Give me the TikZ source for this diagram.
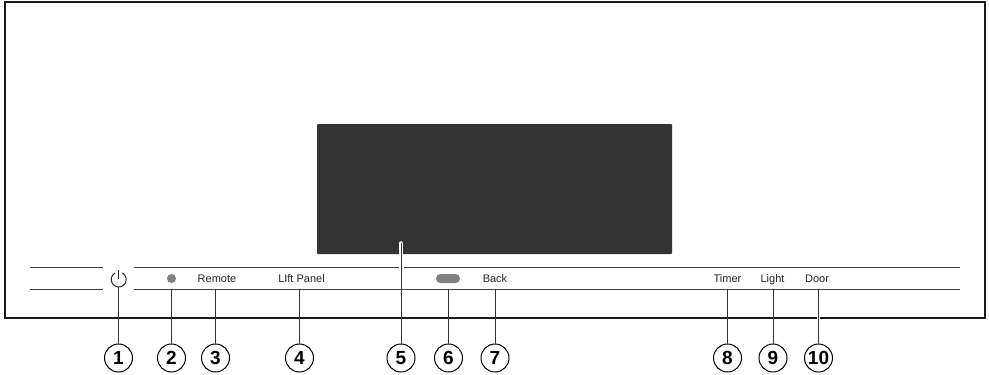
\documentclass[tikz,border=0pt]{standalone}
\usepackage{fontspec}
\setmainfont{Liberation Sans}
\tikzset{
  x=1pt,y=-1pt,
  panelline/.style={draw=black!75,line width=1pt},
  leader/.style={draw=black!80,line width=1pt},
  callout/.style={circle,draw=black,line width=1pt,fill=white,minimum size=28pt,inner sep=0pt,font=\fontsize{19}{19}\selectfont\bfseries},
  lbl/.style={font=\fontsize{11}{11}\selectfont,text=black!85,inner sep=0pt,anchor=base},
  grey/.style={fill=black!50,draw=none},
}
\begin{document}
\begin{tikzpicture}
\useasboundingbox (0,0) rectangle (989,375);
\fill[white] (0,0) rectangle (989,375);
\draw[black!90,line width=1.8pt] (5,2) rectangle (985,318);
\node[fill=black!80,draw=none,rounded corners=1pt,minimum width=355pt,minimum height=130pt,inner sep=0pt] (screen) at (494.5,189) {};
\draw[panelline] (30,267.5) -- (103,267.5) (133.5,267.5) -- (960,267.5);
\draw[panelline] (30,289.5) -- (103,289.5) (133.5,289.5) -- (960,289.5);
% labels
\node[lbl] (remote) at (217,282) {Remote};
\node[lbl] (lift) at (301.5,282) {LIft Panel};
\node[lbl] (back) at (495,282) {Back};
\node[lbl] (timer) at (727.5,282) {Timer};
\node[lbl] (light) at (772.5,282) {Light};
\node[lbl] (door) at (817,282) {Door};
% symbols
\draw[black!85,line width=1pt] (122.45,273) arc[start angle=-60,end angle=240,radius=7.5];
\coordinate (pw) at (118.7,270);
\draw[black!85,line width=1pt] (pw) -- (118.7,279);
\node[grey,circle,minimum size=9pt,inner sep=0pt] (dot) at (171.5,278.5) {};
\node[grey,rounded corners=4.5pt,minimum width=24pt,minimum height=9pt,inner sep=0pt] (pill) at (448,278.5) {};
% callouts
\node[callout] (c1) at (118.5,358) {1};
\node[callout] (c2) at (171.5,358) {2};
\node[callout] (c3) at (215.5,358) {3};
\node[callout] (c4) at (299.5,358) {4};
\node[callout] (c5) at (401,358) {5};
\node[callout] (c6) at (448.5,358) {6};
\node[callout] (c7) at (495,358) {7};
\node[callout] (c8) at (727.5,358) {8};
\node[callout] (c9) at (773,358) {9};
\node[callout] (c10) at (818.5,358) {10};
% anchor points on the panel
\coordinate (t1) at (118.5,287.5);
\coordinate (t2) at (171.5,289.5);
\coordinate (t3) at (215.5,289.5);
\coordinate (t4) at (299.5,289.5);
\coordinate (t5) at (401,243);
\coordinate (t6) at (448.5,289.5);
\coordinate (t7) at (495,289.5);
\coordinate (t8) at (727.5,289.5);
\coordinate (t9) at (773,289.5);
\coordinate (t10) at (818.5,289.5);
% leaders
\draw[white,line width=3.4pt,line cap=round] (401,258) -- (t5);
\draw[white,line width=5pt] (401,265.5) -- (401,269.5);
\draw[white,line width=3.4pt] (818.5,314) -- (818.5,322);
\foreach \n in {1,2,3,4,5,6,7,8,9,10}{
  \draw[leader,line cap=round] (c\n.north) -- (t\n);
}
\end{tikzpicture}
\end{document}
